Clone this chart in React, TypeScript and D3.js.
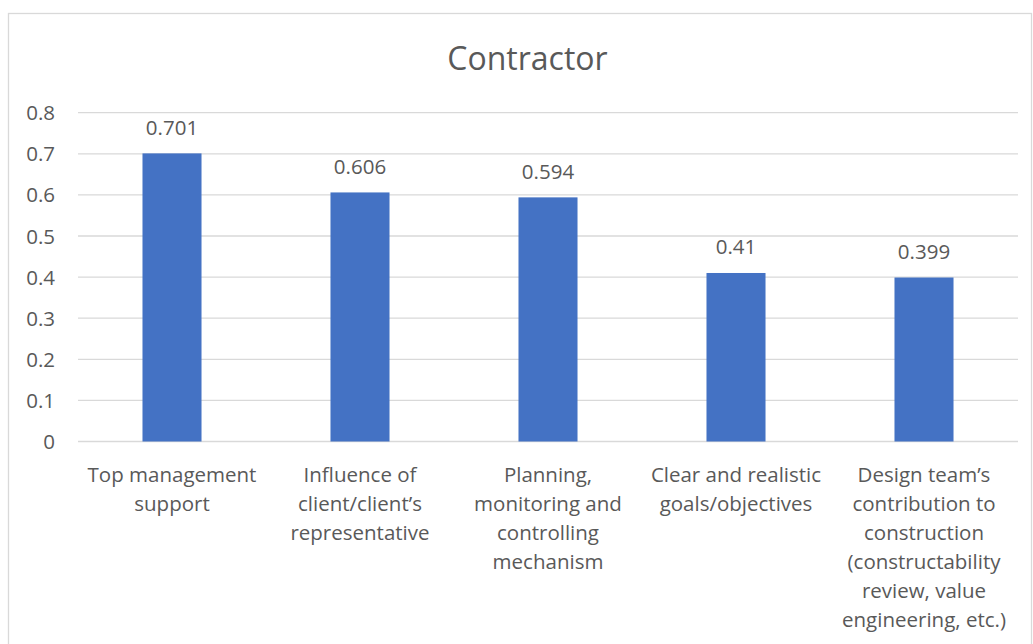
import React from "react";
import * as d3 from "d3";

const categories: string[] = [
  "Top management support",
  "Influence of client/client’s representative",
  "Planning, monitoring and controlling mechanism",
  "Clear and realistic goals/objectives",
  "Design team’s contribution to construction (constructability review, value engineering, etc.)",
];
const values: number[] = [0.701, 0.606, 0.594, 0.41, 0.399];
const valueLabels: string[] = ["0.701", "0.606", "0.594", "0.41", "0.399"];
const yTicks: number[] = [0, 0.1, 0.2, 0.3, 0.4, 0.5, 0.6, 0.7, 0.8];
const title = "Contractor";

const FONT = "'Open Sans', 'Noto Sans', sans-serif";
const TEXT = "#595959";
const LABEL_SIZE = 20.5;

function wrap(text: string, maxW: number, size: number): string[] {
  const canvas = document.createElement("canvas");
  const ctx = canvas.getContext("2d")!;
  ctx.font = `${size}px 'Open Sans'`;
  const words = text.split(" ");
  const lines: string[] = [];
  let cur = "";
  for (const w of words) {
    const t = cur ? cur + " " + w : w;
    if (cur && ctx.measureText(t).width > maxW) {
      lines.push(cur);
      cur = w;
    } else cur = t;
  }
  if (cur) lines.push(cur);
  return lines;
}

export default function App() {
  const W = 1033;
  const H = 644;
  const x0 = 78;
  const x1 = 1018;
  const yTop = 112.7;
  const yBot = 441.5;

  const x = d3.scaleBand<string>().domain(categories).range([x0, x1]).paddingInner(0.686).paddingOuter(0.343);
  const y = d3.scaleLinear().domain([0, 0.8]).range([yBot, yTop]);

  return (
    <svg
      width={W}
      height={H}
      style={{ position: "absolute", left: 0, top: 0, background: "#fff" }}
      fontFamily={FONT}
    >
      <rect x={8.5} y={13.5} width={1023} height={700} fill="#fff" stroke="#d9d9d9" strokeWidth={1.3} />
      <text x={527.5} y={70} textAnchor="middle" fontSize={32} fill={TEXT}>
        {title}
      </text>
      {yTicks.map((t) => (
        <g key={t}>
          <line x1={x0} x2={x1} y1={y(t)} y2={y(t)} stroke="#d9d9d9" strokeWidth={1.3} />
          <text x={55} y={y(t) + 7.5} textAnchor="end" fontSize={LABEL_SIZE} fill={TEXT}>
            {String(t)}
          </text>
        </g>
      ))}
      {categories.map((c, i) => {
        const bx = x(c)!;
        const bw = x.bandwidth();
        const cx = bx + bw / 2;
        const lines = wrap(c, 182, LABEL_SIZE);
        return (
          <g key={c}>
            <rect x={bx} y={y(values[i])} width={bw} height={yBot - y(values[i])} fill="#4472C4" />
            <text x={cx} y={y(values[i]) - 18.5} textAnchor="middle" fontSize={LABEL_SIZE} fill={TEXT}>
              {valueLabels[i]}
            </text>
            <text x={cx} y={yBot + 40.5} textAnchor="middle" fontSize={LABEL_SIZE} fill={TEXT}>
              {lines.map((l, k) => (
                <tspan key={k} x={cx} dy={k === 0 ? 0 : 29}>
                  {l}
                </tspan>
              ))}
            </text>
          </g>
        );
      })}
    </svg>
  );
}
